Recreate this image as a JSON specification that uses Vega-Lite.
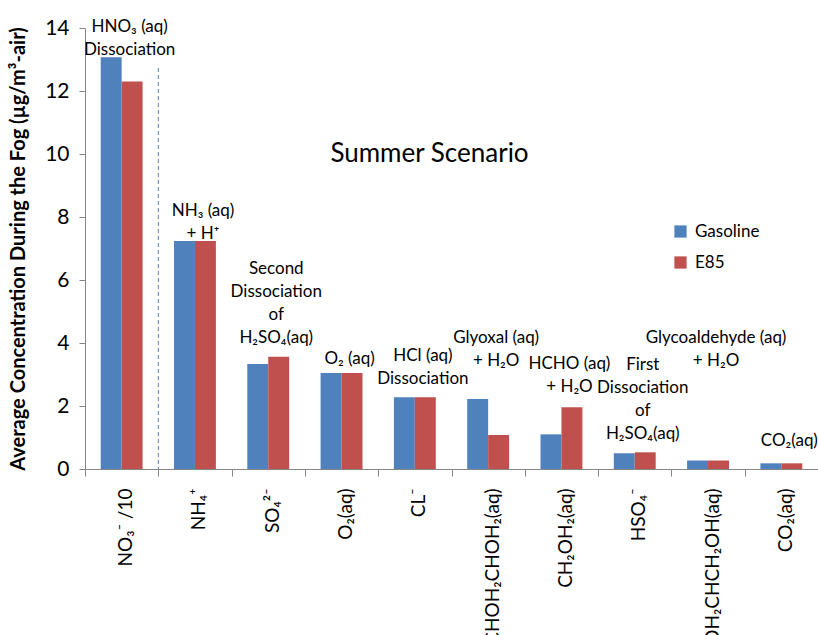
{
  "$schema": "https://vega.github.io/schema/vega-lite/v6.json",
  "width": 733,
  "height": 441,
  "autosize": {"type": "none"},
  "padding": {"left": 85, "top": 28, "right": 0, "bottom": 166},
  "config": {
    "font": "Lato",
    "view": {"stroke": null},
    "axis": {"domainColor": "#868686", "tickColor": "#868686", "labelColor": "#000000", "titleColor": "#000000", "grid": false}
  },
  "title": {"text": "Summer Scenario", "fontSize": 26, "fontWeight": "normal", "font": "Lato", "anchor": "middle", "offset": -150, "dx": -22, "color": "#000000"},
  "layer": [
    {
      "data": {"values": [
        {"species": "NO₃⁻ /10", "fuel": "Gasoline", "conc": 13.07},
        {"species": "NO₃⁻ /10", "fuel": "E85", "conc": 12.3},
        {"species": "NH₄⁺", "fuel": "Gasoline", "conc": 7.24},
        {"species": "NH₄⁺", "fuel": "E85", "conc": 7.24},
        {"species": "SO₄²⁻", "fuel": "Gasoline", "conc": 3.33},
        {"species": "SO₄²⁻", "fuel": "E85", "conc": 3.56},
        {"species": "O₂(aq)", "fuel": "Gasoline", "conc": 3.05},
        {"species": "O₂(aq)", "fuel": "E85", "conc": 3.05},
        {"species": "CL⁻", "fuel": "Gasoline", "conc": 2.28},
        {"species": "CL⁻", "fuel": "E85", "conc": 2.28},
        {"species": "CHOH₂CHOH₂(aq)", "fuel": "Gasoline", "conc": 2.22},
        {"species": "CHOH₂CHOH₂(aq)", "fuel": "E85", "conc": 1.08},
        {"species": "CH₂OH₂(aq)", "fuel": "Gasoline", "conc": 1.1},
        {"species": "CH₂OH₂(aq)", "fuel": "E85", "conc": 1.96},
        {"species": "HSO₄⁻", "fuel": "Gasoline", "conc": 0.5},
        {"species": "HSO₄⁻", "fuel": "E85", "conc": 0.53},
        {"species": "OH₂CHCH₂OH(aq)", "fuel": "Gasoline", "conc": 0.27},
        {"species": "OH₂CHCH₂OH(aq)", "fuel": "E85", "conc": 0.27},
        {"species": "CO₂(aq)", "fuel": "Gasoline", "conc": 0.18},
        {"species": "CO₂(aq)", "fuel": "E85", "conc": 0.18}
      ]},
      "mark": {"type": "bar"},
      "encoding": {
        "x": {
          "field": "species", "type": "nominal",
          "scale": {"domain": ["NO₃⁻ /10", "NH₄⁺", "SO₄²⁻", "O₂(aq)", "CL⁻", "CHOH₂CHOH₂(aq)", "CH₂OH₂(aq)", "HSO₄⁻", "OH₂CHCH₂OH(aq)", "CO₂(aq)"], "paddingInner": 0, "paddingOuter": 0},
          "axis": {"title": null, "labelAngle": -90, "labelAlign": "right", "labelBaseline": "middle", "labelFontSize": 19, "labelPadding": 12, "labelOffset": 4, "tickBand": "extent", "tickSize": 7, "labelLimit": 0}
        },
        "xOffset": {"field": "fuel", "type": "nominal", "scale": {"domain": ["Gasoline", "E85"], "paddingInner": 0, "paddingOuter": 0.75}},
        "y": {
          "field": "conc", "type": "quantitative",
          "scale": {"domain": [0, 14], "nice": false},
          "axis": {"title": "Average Concentration During the Fog (µg/m³-air)", "titleFontSize": 20, "titleFontWeight": "bold", "titlePadding": 16, "labelFontSize": 21, "labelPadding": 10, "tickSize": 6, "values": [0, 2, 4, 6, 8, 10, 12, 14]}
        },
        "color": {
          "field": "fuel", "type": "nominal",
          "scale": {"domain": ["Gasoline", "E85"], "range": ["#4F81BD", "#C0504D"]},
          "legend": {"title": null, "orient": "none", "legendX": 587, "legendY": 195, "symbolType": "square", "symbolSize": 150, "symbolStrokeWidth": 0, "labelFontSize": 17, "labelOffset": 6, "rowPadding": 13}
        }
      }
    },
    {
      "data": {"values": [{"species": "NH₄⁺", "top": 12.73, "base": 0}]},
      "mark": {"type": "rule", "color": "#4F81BD", "strokeDash": [4, 3], "strokeWidth": 1},
      "encoding": {
        "x": {"field": "species", "type": "nominal", "bandPosition": 0},
        "y": {"field": "top", "type": "quantitative"},
        "y2": {"field": "base"}
      }
    },
    {
      "data": {"values": [
        {"species": "NO₃⁻ /10", "note": "HNO₃ (aq)\nDissociation", "at": 14.3},
        {"species": "NH₄⁺", "note": "NH₃ (aq)\n+ H⁺", "at": 8.45},
        {"species": "SO₄²⁻", "note": "Second\nDissociation\nof\nH₂SO₄(aq)", "at": 6.6},
        {"species": "O₂(aq)", "note": "O₂ (aq)", "at": 3.75},
        {"species": "CL⁻", "note": "HCl (aq)\nDissociation", "at": 3.85},
        {"species": "CHOH₂CHOH₂(aq)", "note": "Glyoxal (aq)\n+ H₂O", "at": 4.4},
        {"species": "CH₂OH₂(aq)", "note": "HCHO (aq)\n+ H₂O", "at": 3.6},
        {"species": "HSO₄⁻", "note": "First\nDissociation\nof\nH₂SO₄(aq)", "at": 3.56},
        {"species": "OH₂CHCH₂OH(aq)", "note": "Glycoaldehyde (aq)\n+ H₂O", "at": 4.4},
        {"species": "CO₂(aq)", "note": "CO₂(aq)", "at": 1.15}
      ]},
      "mark": {"type": "text", "fontSize": 17, "lineHeight": 23, "lineBreak": "\n", "baseline": "top", "align": "center", "dx": 8, "color": "#000000"},
      "encoding": {
        "x": {"field": "species", "type": "nominal"},
        "y": {"field": "at", "type": "quantitative"},
        "text": {"field": "note"}
      }
    }
  ]
}
